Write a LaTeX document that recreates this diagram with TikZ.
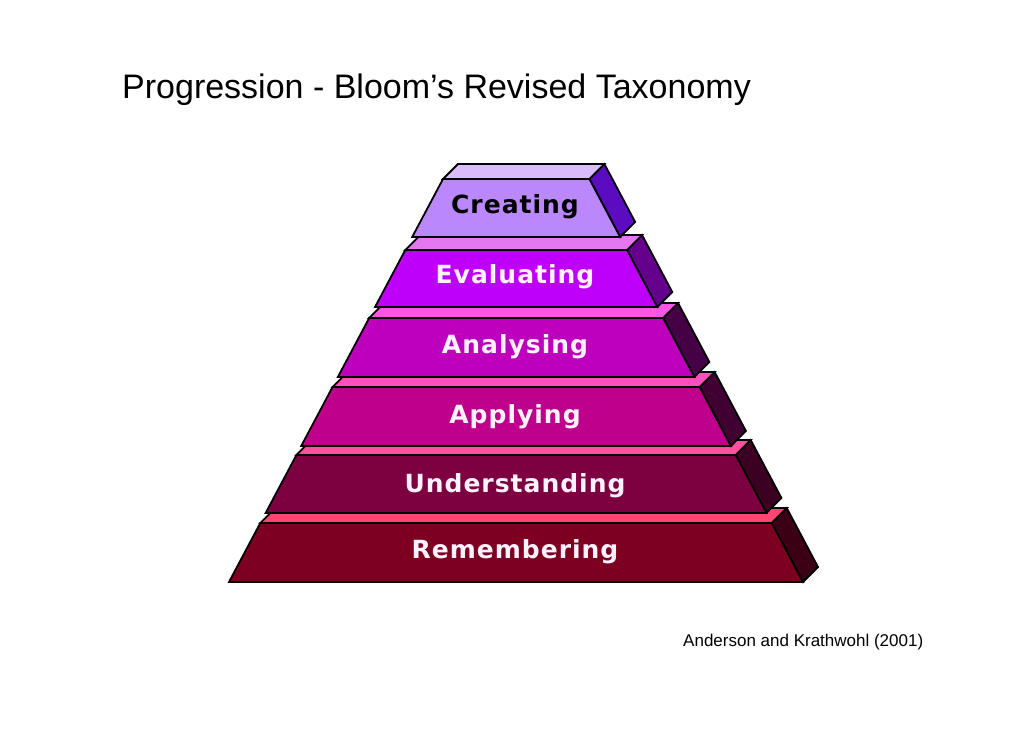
\documentclass[tikz,border=0pt]{standalone}
\usepackage{fontspec}
\setmainfont{Liberation Sans}
\newfontfamily\pixfont{DejaVu Sans}[LetterSpace=4]
\definecolor{crF}{RGB}{186,136,250}
\definecolor{crT}{RGB}{218,188,250}
\definecolor{crS}{RGB}{92,12,192}
\definecolor{evF}{RGB}{190,0,250}
\definecolor{evT}{RGB}{228,120,240}
\definecolor{evS}{RGB}{100,0,140}
\definecolor{anF}{RGB}{190,0,190}
\definecolor{anT}{RGB}{255,85,230}
\definecolor{anS}{RGB}{70,0,70}
\definecolor{apF}{RGB}{190,0,140}
\definecolor{apT}{RGB}{255,80,190}
\definecolor{apS}{RGB}{65,0,50}
\definecolor{unF}{RGB}{125,0,65}
\definecolor{unT}{RGB}{255,80,160}
\definecolor{unS}{RGB}{60,0,35}
\definecolor{reF}{RGB}{125,0,32}
\definecolor{reT}{RGB}{255,70,115}
\definecolor{reS}{RGB}{60,0,20}
\definecolor{txtW}{RGB}{255,242,255}
\tikzset{
  face/.style={draw=black, line width=1.8pt, line join=miter},
  tierlabel/.style={anchor=base, inner sep=0pt, font=\pixfont\bfseries\fontsize{25}{27}\selectfont},
}
% #1 y front top, #2 y bottom, #3 front, #4 top, #5 side, #6 name, #7 label, #8 text colour, #9 baseline
\newcommand\pyrtier[9]{%
  \pgfmathsetmacro\xlb{229+0.531*(582-#2)}%
  \pgfmathsetmacro\xrb{803-0.53*(582-#2)}%
  \pgfmathsetmacro\xlf{229+0.531*(582-#1)}%
  \pgfmathsetmacro\xrf{803-0.53*(582-#1)}%
  \fill[#5, face] (\xrf,#1) -- ++(15,-15) -- (\xrb+15,#2-15) -- (\xrb,#2) -- cycle;
  \fill[#4, face] (\xlf,#1) -- (\xrf,#1) -- ++(15,-15) -- (\xlf+15,#1-15) -- cycle;
  \fill[#3, face] (\xlb,#2) -- (\xrb,#2) -- (\xrf,#1) -- (\xlf,#1) -- cycle;
  \node[tierlabel, text=#8] (#6) at (515,#9) {#7};
}
\begin{document}
\begin{tikzpicture}[x=1pt,y=-1pt]
\useasboundingbox[fill=white] (0,0) rectangle (1030,728);
\node[anchor=base west, inner sep=0pt, font=\fontsize{34}{40}\selectfont] (title) at (122,98) {Progression - Bloom’s Revised Taxonomy};
\pyrtier{523}{582}{reF}{reT}{reS}{remembering}{Remembering}{txtW}{558}
\pyrtier{455}{513}{unF}{unT}{unS}{understanding}{Understanding}{txtW}{492}
\pyrtier{387}{446}{apF}{apT}{apS}{applying}{Applying}{txtW}{423}
\pyrtier{318}{377}{anF}{anT}{anS}{analysing}{Analysing}{txtW}{353}
\pyrtier{250}{307}{evF}{evT}{evS}{evaluating}{Evaluating}{txtW}{283}
\pyrtier{179}{237}{crF}{crT}{crS}{creating}{Creating}{black}{213}
\node[anchor=base west, inner sep=0pt, font=\fontsize{17}{20}\selectfont] (source) at (683,646) {Anderson and Krathwohl (2001)};
\end{tikzpicture}
\end{document}
